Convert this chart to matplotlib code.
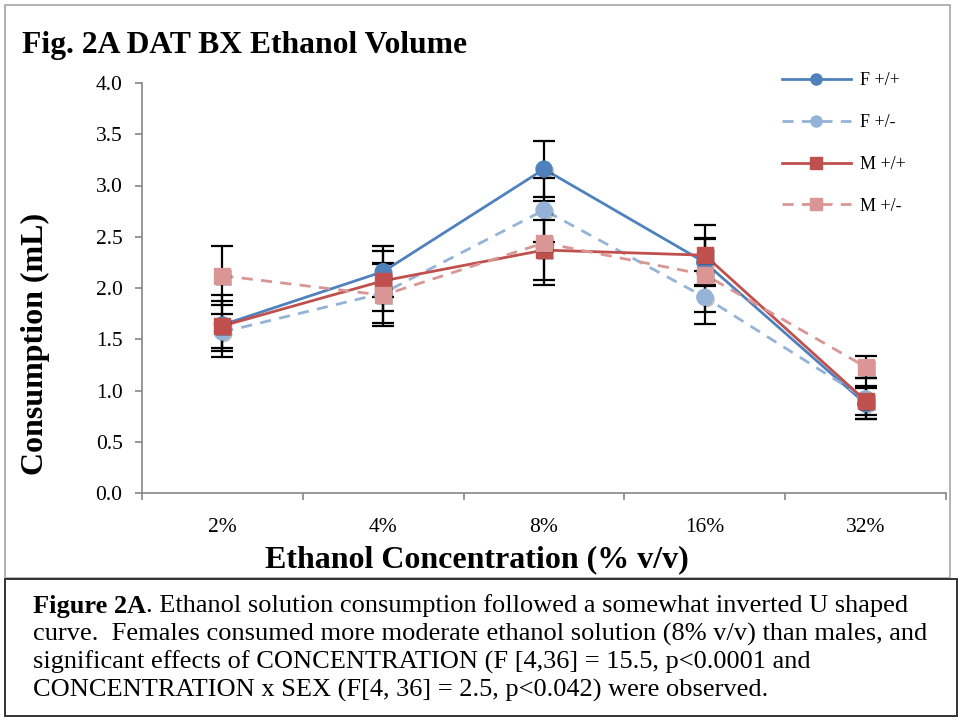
import matplotlib
matplotlib.use("Agg")
import matplotlib.pyplot as plt
import matplotlib.patheffects as pe
from matplotlib.patches import Rectangle
import numpy as np

plt.rcParams['font.family'] = ['Liberation Serif', 'DejaVu Serif']

concentrations = ["2%", "4%", "8%", "16%", "32%"]

f_wt = [1.64, 2.16, 3.16, 2.25, 0.87]
f_wt_err = [0.23, 0.25, 0.27, 0.23, 0.15]
f_het = [1.57, 1.95, 2.76, 1.91, 0.92]
f_het_err = [0.18, 0.29, 0.31, 0.26, 0.20]
m_wt = [1.63, 2.07, 2.37, 2.32, 0.90]
m_wt_err = [0.30, 0.29, 0.29, 0.29, 0.14]
m_het = [2.12, 1.93, 2.44, 2.13, 1.23]
m_het_err = [0.29, 0.30, 0.41, 0.36, 0.11]

series = [
    ("F +/+", f_wt, f_wt_err, "#4F81BD", "-", "o"),
    ("F +/-", f_het, f_het_err, "#95B3D7", "--", "o"),
    ("M +/+", m_wt, m_wt_err, "#C0504D", "-", "s"),
    ("M +/-", m_het, m_het_err, "#D99694", "--", "s"),
]

W, H = 958, 721
fig = plt.figure(figsize=(W / 100, H / 100), dpi=100)

def fx(px):
    return px / W

def fy(py):
    return 1 - py / H

ax = fig.add_axes([fx(142), fy(493), fx(946) - fx(142), fy(83) - fy(493)])
x = np.arange(len(concentrations))

shadow = [pe.withSimplePatchShadow(offset=(1.5, -1.5), shadow_rgbFace="#000000", alpha=0.25)]
handles = []
for i, (name, vals, err, col, ls, mk) in enumerate(series):
    ax.errorbar(x, vals, yerr=err, fmt="none", ecolor="black", elinewidth=1.6,
                capsize=8, capthick=1.6, zorder=2)
    ax.plot(x, vals, color=col, ls=ls, lw=2, dashes=(4, 3) if ls == "--" else (None, None),
            zorder=3 + i)
    ax.plot(x, vals, ls="none", marker=mk, ms=11.5, color=col, mec=col,
            zorder=3 + i, path_effects=shadow)
    h, = ax.plot([], [], color=col, lw=2, ls=ls, marker=mk, ms=8, mec=col,
                 dashes=(4, 3) if ls == "--" else (None, None))
    handles.append(h)

ax.set_xlim(-0.5, len(concentrations) - 0.5)
ax.set_ylim(0, 4.0)
ax.set_yticks(np.arange(0, 4.01, 0.5))
ax.set_yticklabels([f"{v:.1f}" for v in np.arange(0, 4.01, 0.5)])
ax.set_xticks(x)
ax.set_xticklabels(concentrations)
ax.set_xticks(np.arange(-0.5, len(concentrations)), minor=True)
ax.tick_params(axis="x", which="major", length=0, pad=18, labelsize=15.5)
ax.tick_params(axis="x", which="minor", length=5, width=1.2, color="#868686", direction="out")
ax.tick_params(axis="y", length=5, width=1.2, color="#868686", pad=9, labelsize=15.5)

for s in ["top", "right"]:
    ax.spines[s].set_visible(False)
for s in ["left", "bottom"]:
    ax.spines[s].set_color("#868686")
    ax.spines[s].set_linewidth(1.2)

fig.text(fx(35), fy(344), "Consumption (mL)", rotation=90, ha="center", va="center",
         fontsize=23, fontweight="bold")
fig.text(fx(477), fy(560), "Ethanol Concentration (% v/v)", ha="center", va="center",
         fontsize=23, fontweight="bold")
fig.text(fx(22), fy(45), "Fig. 2A DAT BX Ethanol Volume", ha="left", va="center",
         fontsize=22.8, fontweight="bold")

fig.legend(handles, [s[0] for s in series], loc="upper left",
           bbox_to_anchor=(fx(782), fy(72)), frameon=False, fontsize=13,
           handlelength=3.8, handletextpad=0.5, labelspacing=1.38, borderpad=0,
           borderaxespad=0)

# chart frame and caption box
fig.patches.append(Rectangle((fx(5), fy(578)), fx(950) - fx(5), fy(5) - fy(578),
                             transform=fig.transFigure, fill=False, ec="#A6A6A6", lw=1.2))
fig.patches.append(Rectangle((fx(5), fy(716)), fx(957) - fx(5), fy(579) - fy(716),
                             transform=fig.transFigure, fill=False, ec="#333333", lw=1.4))

caption = [
    ". Ethanol solution consumption followed a somewhat inverted U shaped",
    "curve.  Females consumed more moderate ethanol solution (8% v/v) than males, and",
    "significant effects of CONCENTRATION (F [4,36] = 15.5, p<0.0001 and",
    "CONCENTRATION x SEX (F[4, 36] = 2.5, p<0.042) were observed.",
]
cap_fs = 19
fig.canvas.draw()
r = fig.canvas.get_renderer()
bold = fig.text(fx(33), fy(606), "Figure 2A", ha="left", va="center", fontsize=cap_fs,
                fontweight="bold")
bw = bold.get_window_extent(r).width
fig.text(fx(33) + bw / W, fy(606), caption[0], ha="left", va="center", fontsize=cap_fs)
for k, txt in enumerate(caption[1:], start=1):
    fig.text(fx(33), fy(606 + 28 * k), txt, ha="left", va="center", fontsize=cap_fs)

fig.savefig("out.png", dpi=100)
